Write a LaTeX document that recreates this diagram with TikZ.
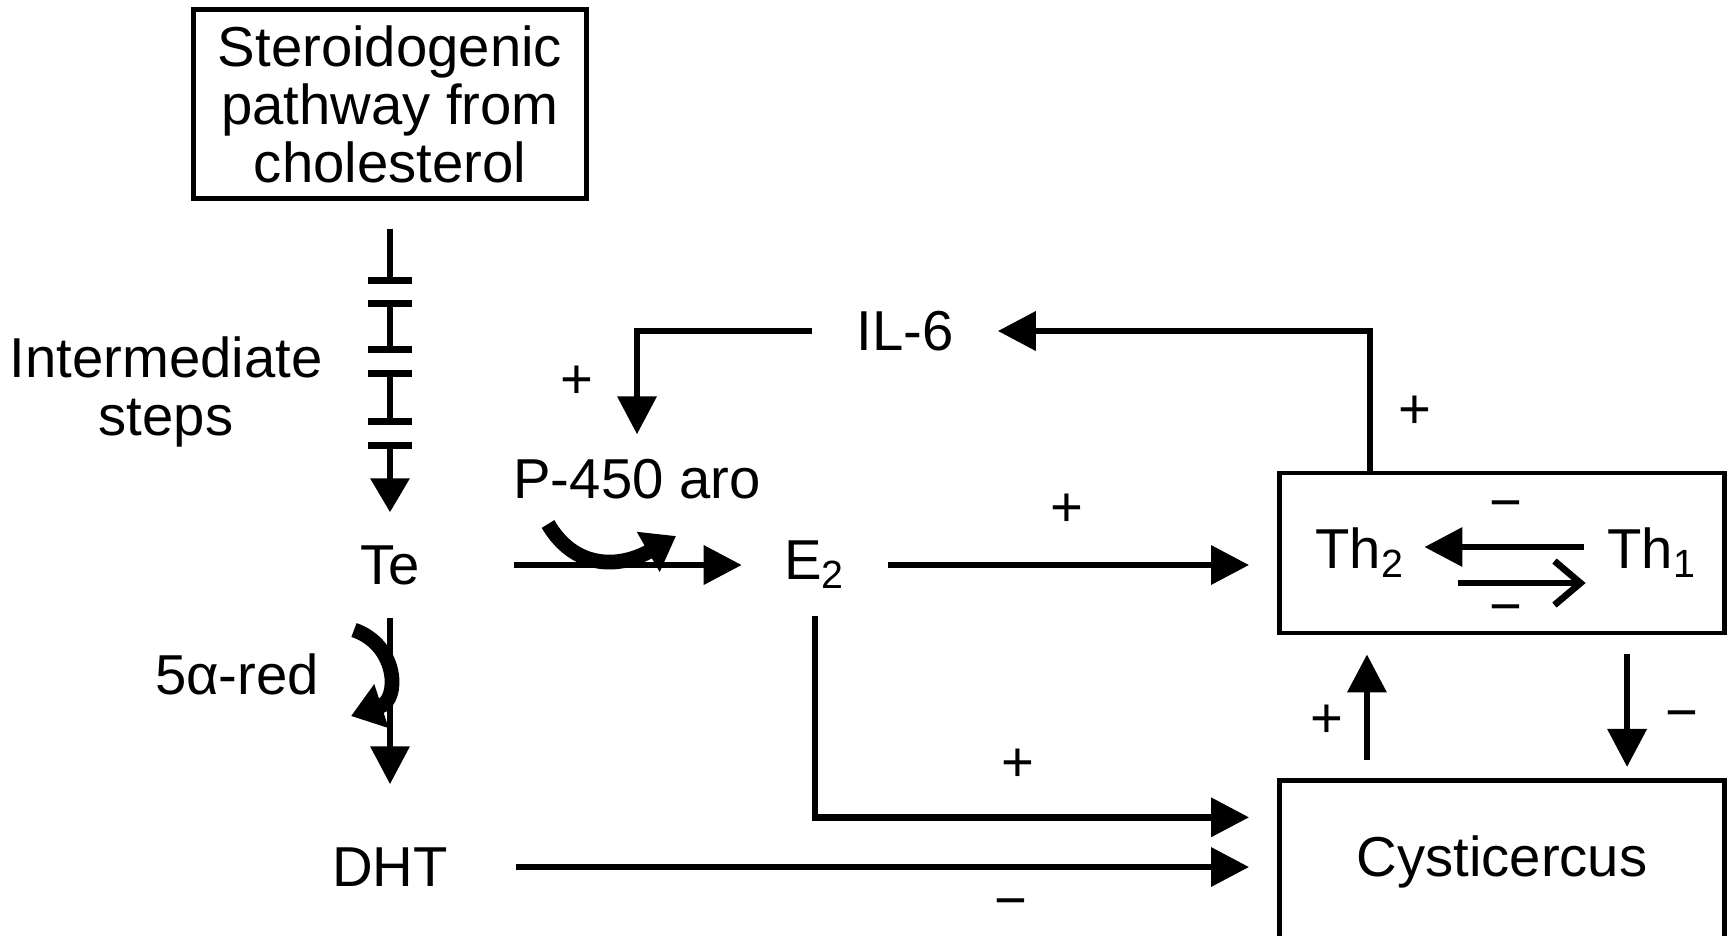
\documentclass[tikz,border=0pt]{standalone}
\usepackage{fontspec}
\setmainfont{Liberation Sans}
\usepackage{tikz}
\usetikzlibrary{arrows.meta, positioning, calc}

\begin{document}
\begin{tikzpicture}[
    x=0.01cm, y=-0.01cm,
    font=\fontsize{16}{16.5}\selectfont,
    box/.style={rectangle, draw, line width=1.3pt, align=center, inner sep=0pt},
    txt/.style={inner sep=0pt, align=center},
    sign/.style={inner sep=0pt},
    link/.style={line width=1.9pt},
    steps/.style={link, {Bar[width=4.4mm]}-{Bar[width=4.4mm]}},
    arrow/.style={-{Triangle[length=3.8mm, width=3.8mm]}, line width=1.9pt},
    openarrow/.style={-{Straight Barb[length=2.6mm, width=4.4mm]}, line width=1.9pt},
    enzyme/.style={-{Triangle[length=3.2mm, width=4.4mm]}, line width=4.2pt}
]
\useasboundingbox (0,0) rectangle (1728,935);
\clip (0,0) rectangle (1728,935);

\node[box, minimum width=3.93cm, minimum height=1.89cm] (steroid) at (390,104) {Steroidogenic\\pathway from\\cholesterol};
\node[txt] (inter) at (166,392) {Intermediate\\steps};
\node[txt, minimum width=2.46cm, minimum height=1.04cm] (te) at (390,565) {Te};
\node[txt] (red) at (237,674) {5α-red};
\node[txt, minimum width=2.5cm, minimum height=1.64cm] (dht) at (390,867) {DHT};
\node[txt] (p450) at (637,479) {P-450 aro};
\node[txt, minimum width=1.45cm, minimum height=1.0cm] (e2) at (815,565) {E\textsubscript{2}};
\node[txt, minimum width=1.84cm] (il6) at (905,331) {IL-6};
\node[box, minimum width=4.45cm, minimum height=1.6cm] (th) at (1502,553) {};
\node[txt] (th2) at (1360,553) {Th\textsubscript{2}};
\node[txt] (th1) at (1652,553) {Th\textsubscript{1}};
\node[box, minimum width=4.45cm, minimum height=1.64cm, anchor=north] (cyst) at (1502,778) {Cysticercus};

\path (steroid.south) ++(0,28) coordinate (k1) ++(0,55) coordinate (k2) ++(0,16) coordinate (k3)
    ++(0,53) coordinate (k4) ++(0,17) coordinate (k5) ++(0,55) coordinate (k6) ++(0,17) coordinate (k7);
\draw[link, -{Bar[width=4.4mm]}] (k1) -- (k2);
\draw[steps] (k3) -- (k4);
\draw[steps] (k5) -- (k6);
\draw[arrow, {Bar[width=4.4mm]}-{Triangle[length=3.4mm, width=3.8mm]}] (k7) -- (te);

\draw[arrow] (te.east) -- (e2.west);
\draw[arrow] (te.south) -- (dht.north);
\draw[enzyme] (548,524) .. controls (575,570) and (620,568) .. (676,536);
\draw[enzyme] (354,630) .. controls (398,645) and (400,700) .. (351,716);

\draw[arrow] ([xshift=-1.32cm]th.north) |- (il6.east) node[sign, pos=0.21, right=2.5mm] {+};
\draw[arrow] (il6.west) -| ([yshift=0.24cm]p450.north) node[sign, pos=0.75, left=4mm] {+};

\draw[arrow, shorten >=2.8mm] (e2.east) -- (e2.east -| th.west) node[sign, pos=0.46, above=3.5mm] {+};
\draw[arrow, shorten >=2.8mm] (e2.south) |- ([yshift=0.45cm]cyst.west) node[sign, pos=0.72, above=3.2mm] {+};
\draw[arrow, shorten >=2.8mm] (dht.east) -- (dht.east -| cyst.west) node[sign, pos=0.65, below=2.8mm] {−};

\draw[arrow, shorten <=2.3mm, shorten >=1.9mm] ([yshift=0.06cm]th1.west) -- ([yshift=0.06cm]th2.east) node[sign, midway, above=2.2mm] {−};
\draw[openarrow, shorten <=5.3mm, shorten >=2.1mm] ([yshift=-0.3cm]th2.east) -- ([yshift=-0.3cm]th1.west) node[sign, midway, below=1.8mm] {−};

\draw[arrow, shorten <=1.8mm, shorten >=1.9mm] ([xshift=-1.35cm]cyst.north) -- ([xshift=-1.35cm]th.south) node[sign, pos=0.4, left=2mm] {+};
\draw[arrow, shorten <=1.9mm, shorten >=1.1mm] ([xshift=1.25cm]th.south) -- ([xshift=1.25cm]cyst.north) node[sign, pos=0.6, right=3.5mm] {−};
\end{tikzpicture}
\end{document}
